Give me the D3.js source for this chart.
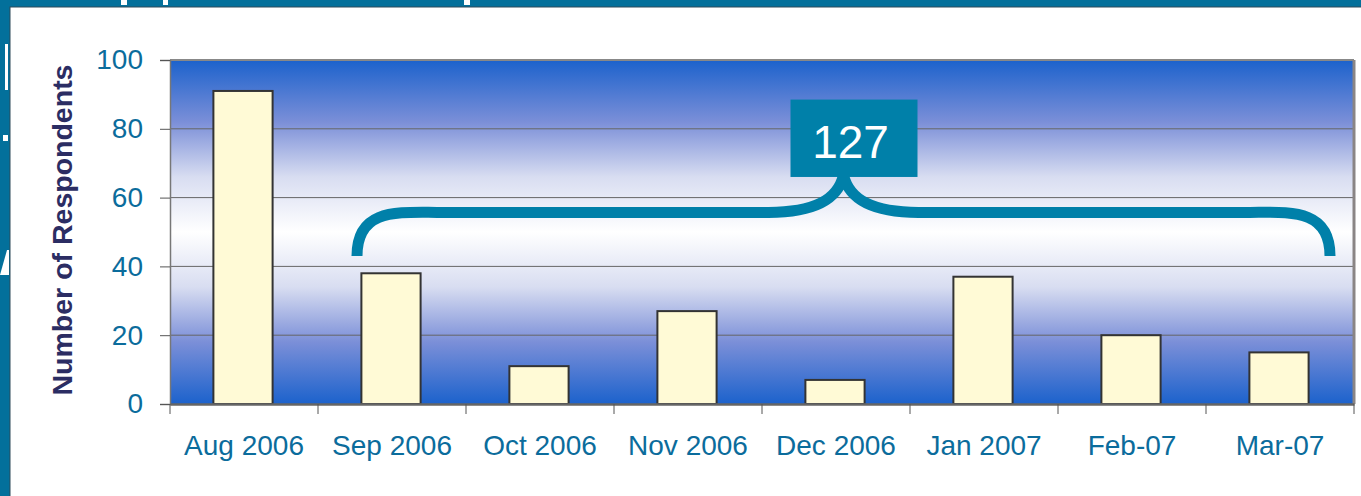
<!DOCTYPE html>
<html>
<head>
<meta charset="utf-8">
<script src="https://cdn.jsdelivr.net/npm/d3@7"></script>
<style>
  body { margin: 0; background: #03709b; }
  svg { display: block; }
  text { font-family: "Liberation Sans", Arial, sans-serif; }
</style>
</head>
<body>
<svg width="1361" height="496"></svg>
<script>
var months = ["Aug 2006", "Sep 2006", "Oct 2006", "Nov 2006", "Dec 2006", "Jan 2007", "Feb-07", "Mar-07"];
var respondents = [91, 38, 11, 27, 7, 37, 20, 15];
var yTicks = [0, 20, 40, 60, 80, 100];
var braceFrom = "Sep 2006", braceTo = "Mar-07", braceTotal = "127";

window.onload = function() {

  var svg = d3.select("svg"),
      margin = {top: 60, right: 7, bottom: 92, left: 170},
      width = svg.attr("width") - margin.left - margin.right,
      height = svg.attr("height") - margin.top - margin.bottom;

  var data = months.map(function(m, i) { return {month: m, value: respondents[i]}; });

  // white slide panel + cut-off slide text bits
  svg.append("rect").attr("x", 10).attr("y", 7).attr("width", 1360).attr("height", 500)
      .attr("fill", "#fff").attr("stroke", "#2f4b5a").attr("stroke-width", 1);
  [[121, 0, 6, 5], [163, 0, 5, 5], [464, 0, 6, 5], [5, 44, 3, 46], [3, 135, 5, 6]].forEach(function(r) {
    svg.append("rect").attr("x", r[0]).attr("y", r[1]).attr("width", r[2]).attr("height", r[3]).attr("fill", "#fff");
  });
  svg.append("path").attr("d", "M0,275 L7,250 L9,250 L9,275 Z").attr("fill", "#fff");

  var defs = svg.append("defs");
  var grad = defs.append("linearGradient").attr("id", "bg").attr("x1", 0).attr("y1", 0).attr("x2", 0).attr("y2", 1);
  [[0, "#1c62cc"], [0.18, "#7b8fd8"], [0.34, "#d8ddf1"], [0.5, "#ffffff"], [0.66, "#d8ddf1"], [0.82, "#7b8fd8"], [1, "#1c62cc"]]
    .forEach(function(s) { grad.append("stop").attr("offset", s[0]).attr("stop-color", s[1]); });

  var g = svg.append("g").attr("transform", "translate(" + margin.left + "," + margin.top + ")");

  var x = d3.scaleBand().domain(months).range([0, width]).paddingInner(0.6).paddingOuter(0.3),
      xb = d3.scaleBand().domain(months).range([0, width]),
      y = d3.scaleLinear().domain([0, 100]).range([height, 0]);

  g.append("rect").attr("width", width).attr("height", height).attr("fill", "url(#bg)");

  // gridlines
  g.selectAll(".grid").data(yTicks.slice(1, -1)).enter().append("line")
      .attr("x1", 0).attr("x2", width)
      .attr("y1", function(d) { return y(d); }).attr("y2", function(d) { return y(d); })
      .attr("stroke", "#666").attr("stroke-width", 1);

  // frame
  g.append("line").attr("x1", 0).attr("x2", width).attr("y1", 0).attr("y2", 0).attr("stroke", "#888").attr("stroke-width", 2);
  g.append("line").attr("x1", width).attr("x2", width).attr("y1", 0).attr("y2", height).attr("stroke", "#8a8585").attr("stroke-width", 3);

  // bars
  g.selectAll(".bar").data(data).enter().append("rect")
      .attr("x", function(d) { return x(d.month) - 1; })
      .attr("y", function(d) { return y(d.value); })
      .attr("width", x.bandwidth())
      .attr("height", function(d) { return height - y(d.value); })
      .attr("fill", "#fffad6").attr("stroke", "#333").attr("stroke-width", 2);

  // y axis
  var ya = g.append("g").call(d3.axisLeft(y).tickValues(yTicks).tickSize(10).tickPadding(17));
  ya.select(".domain").attr("stroke", "#777").attr("stroke-width", 1.5);
  ya.selectAll(".tick line").attr("stroke", "#555");
  ya.selectAll("text").attr("fill", "#0b6c9c").style("font-size", "28px")
      .style("font-family", "'Liberation Sans', Arial, sans-serif");

  // x axis, ticks between the categories
  var xa = g.append("g").attr("transform", "translate(0," + height + ")")
      .call(d3.axisBottom(xb).tickSize(0).tickPadding(31));
  xa.select(".domain").attr("stroke", "#666").attr("stroke-width", 2.5);
  xa.selectAll("text").attr("fill", "#0b6c9c").style("font-size", "28px")
      .style("font-family", "'Liberation Sans', Arial, sans-serif");
  g.selectAll(".xtick").data(months.concat([null])).enter().append("line")
      .attr("x1", function(d, i) { return i * xb.step(); })
      .attr("x2", function(d, i) { return i * xb.step(); })
      .attr("y1", height).attr("y2", height + 10)
      .attr("stroke", "#555").attr("stroke-width", 1);

  g.append("text")
      .attr("transform", "translate(-108," + (height / 2 - 2) + ") rotate(-90)")
      .attr("text-anchor", "middle").attr("dy", "0.35em")
      .attr("fill", "#2b2d63").style("font-size", "28.5px").style("font-weight", "bold")
      .text("Number of Respondents");

  // brace over Sep..Mar
  var x0 = xb(braceFrom) + 39, x1 = xb(braceTo) + xb.bandwidth() - 24, xm = (x0 + x1) / 2,
      yEnd = y(43), yMid = y(55.7), yTip = y(66.5);
  var brace = d3.path();
  brace.moveTo(x0, yEnd);
  brace.bezierCurveTo(x0, yMid - 4, x0 + 40, yMid, x0 + 80, yMid);
  brace.lineTo(xm - 75, yMid);
  brace.bezierCurveTo(xm - 30, yMid, xm - 6, yMid - 12, xm, yTip);
  brace.bezierCurveTo(xm + 6, yMid - 12, xm + 30, yMid, xm + 75, yMid);
  brace.lineTo(x1 - 80, yMid);
  brace.bezierCurveTo(x1 - 40, yMid, x1, yMid - 4, x1, yEnd);
  g.append("path").attr("d", brace.toString())
      .attr("fill", "none").attr("stroke", "#0080a9").attr("stroke-width", 11);

  g.append("rect").attr("x", xm - 53).attr("y", y(88.5)).attr("width", 127).attr("height", y(66) - y(88.5))
      .attr("fill", "#0080a9");
  g.append("text").attr("x", xm + 7).attr("y", y(71.5))
      .attr("text-anchor", "middle").attr("fill", "#fff").style("font-size", "46px")
      .text(braceTotal);
};
</script>
</body>
</html>
